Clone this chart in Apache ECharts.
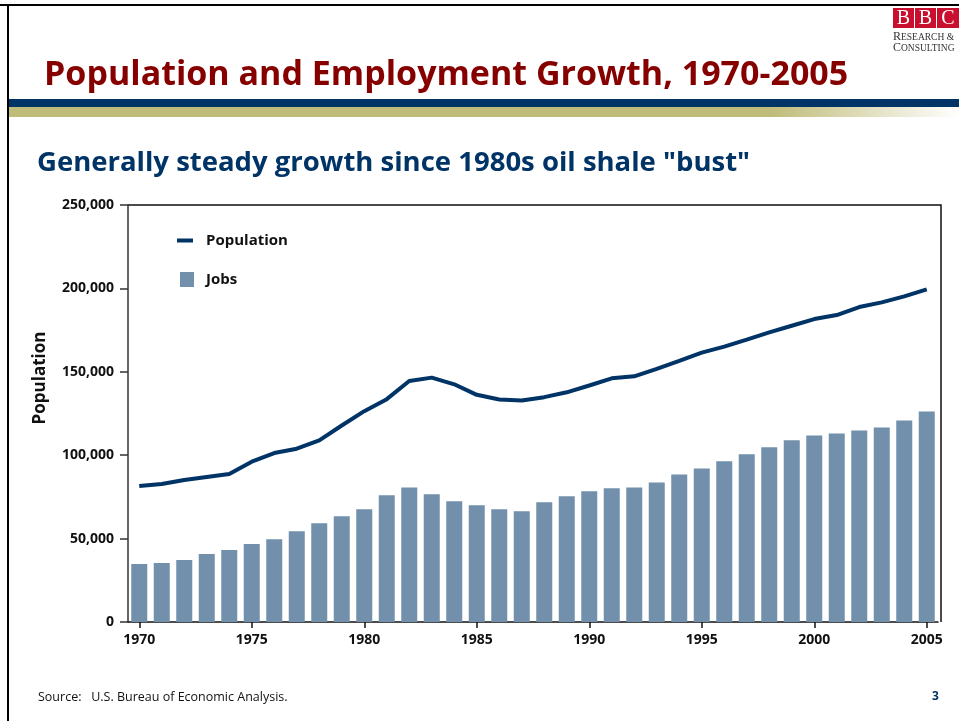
<!DOCTYPE html>
<html>
<head>
<meta charset="utf-8">
<title>Population and Employment Growth, 1970-2005</title>
<script src="https://cdn.jsdelivr.net/npm/echarts@6/dist/echarts.min.js"></script>
<style>
  html, body { margin: 0; padding: 0; background: #fff; }
  #chart { width: 959px; height: 721px; }
</style>
</head>
<body>
<div id="chart"></div>
<script>
// data
var years = [];
for (var y = 1970; y <= 2005; y++) years.push(String(y));

var population = [
  81500, 82700, 85100, 86900, 88700, 96100, 101300, 103900, 108900, 117800,
  126400, 133600, 144500, 146500, 142500, 136200, 133400, 132800, 134800, 137700,
  141800, 146100, 147300, 151700, 156500, 161500, 165100, 169300, 173600, 177600,
  181600, 184000, 188800, 191600, 195200, 199400
];

var jobs = [
  34700, 35300, 37100, 40700, 43100, 46700, 49600, 54400, 59200, 63400,
  67600, 76000, 80700, 76600, 72400, 70000, 67600, 66400, 71800, 75400,
  78400, 80200, 80700, 83700, 88500, 92100, 96300, 100500, 104700, 108900,
  111800, 113000, 114800, 116600, 120800, 126200
];

var yTicks = [0, 50000, 100000, 150000, 200000, 250000];

var navy = "#003366";
var barColor = "#7290ab";
var font = "Open Sans";

var myChart = echarts.init(document.getElementById("chart"));

// small caps line for the logo
function smallCaps(first, rest, x, y) {
  return {
    type: "text",
    x: x,
    y: y,
    style: {
      text: "{a|" + first + "}{b|" + rest + "}",
      rich: {
        a: { fontFamily: "Liberation Serif", fontSize: 12, fill: "#333" },
        b: { fontFamily: "Liberation Serif", fontSize: 9.5, fill: "#333" }
      }
    }
  };
}

myChart.setOption({
  backgroundColor: "#fff",
  animation: false,
  title: [
    {
      text: "Population and Employment Growth, 1970-2005",
      left: 39,
      top: 53,
      textStyle: { fontFamily: font, fontWeight: "bold", fontSize: 34, color: "#860000" }
    },
    {
      text: 'Generally steady growth since 1980s oil shale "bust"',
      left: 32,
      top: 144,
      textStyle: { fontFamily: font, fontWeight: "bold", fontSize: 27.5, color: navy }
    },
    {
      text: "Source:   U.S. Bureau of Economic Analysis.",
      left: 33,
      top: 686,
      textStyle: { fontFamily: font, fontWeight: "normal", fontSize: 12.5, color: "#111" }
    },
    {
      text: "3",
      left: 927,
      top: 686,
      textStyle: { fontFamily: font, fontWeight: "bold", fontSize: 12, color: navy }
    }
  ],
  legend: [
    {
      data: [{ name: "Population", icon: "rect" }],
      left: 172,
      top: 228,
      itemWidth: 16,
      itemHeight: 4,
      textStyle: { fontFamily: font, fontWeight: "bold", fontSize: 15, color: "#111", padding: [0, 0, 0, 8] }
    },
    {
      data: [{ name: "Jobs", icon: "rect" }],
      left: 175,
      top: 267,
      itemWidth: 14,
      itemHeight: 15,
      textStyle: { fontFamily: font, fontWeight: "bold", fontSize: 15, color: "#111", padding: [0, 0, 0, 7] }
    }
  ],
  grid: {
    left: 128,
    top: 205,
    width: 810,
    bottom: 99,
    containLabel: false
  },
  xAxis: {
    type: "category",
    data: years,
    boundaryGap: true,
    axisLine: { lineStyle: { color: "#111", width: 1.5 } },
    axisTick: { show: true, alignWithLabel: true, interval: 4, length: 6, lineStyle: { color: "#111", width: 1.5 } },
    axisLabel: {
      interval: 4,
      margin: 11,
      fontFamily: font,
      fontWeight: "bold",
      fontSize: 14,
      color: "#111"
    },
    splitLine: { show: false }
  },
  yAxis: {
    type: "value",
    min: yTicks[0],
    max: yTicks[yTicks.length - 1],
    interval: yTicks[1] - yTicks[0],
    axisLine: { show: true, lineStyle: { color: "#333", width: 1.5 } },
    axisTick: { show: true, length: 8, lineStyle: { color: "#333", width: 1.5 } },
    axisLabel: {
      margin: 14,
      fontFamily: font,
      fontWeight: "bold",
      fontSize: 14,
      color: "#111",
      formatter: function (v) {
        return v.toLocaleString("en-US");
      }
    },
    splitLine: { show: false }
  },
  series: [
    {
      name: "Jobs",
      type: "bar",
      data: jobs,
      barWidth: 16,
      itemStyle: { color: barColor }
    },
    {
      name: "Population",
      type: "line",
      data: population,
      showSymbol: false,
      symbol: "none",
      z: 5,
      itemStyle: { color: navy },
      lineStyle: { color: navy, width: 4 }
    }
  ],
  graphic: [
    // slide frame
    { type: "rect", shape: { x: 0, y: 4, width: 959, height: 2 }, style: { fill: "#000" } },
    { type: "rect", shape: { x: 7, y: 4, width: 2, height: 717 }, style: { fill: "#000" } },
    // header bands
    { type: "rect", shape: { x: 9, y: 99, width: 950, height: 8 }, style: { fill: navy } },
    {
      type: "rect",
      shape: { x: 9, y: 107, width: 950, height: 10 },
      style: {
        fill: new echarts.graphic.LinearGradient(0, 0, 1, 0, [
          { offset: 0, color: "#bfbb78" },
          { offset: 0.8, color: "#bfbb78" },
          { offset: 1, color: "#ffffff" }
        ])
      }
    },
    // plot box top and right edges
    {
      type: "polyline",
      shape: { points: [[128, 205], [941, 205], [941, 622]] },
      style: { stroke: "#111", lineWidth: 1.5, fill: null }
    },
    // y axis title
    {
      type: "text",
      x: 40,
      y: 378,
      rotation: Math.PI / 2,
      style: {
        text: "Population",
        fontFamily: font,
        fontWeight: "bold",
        fontSize: 17,
        fill: "#111",
        align: "center",
        verticalAlign: "middle"
      }
    },
    // BBC logo
    { type: "rect", shape: { x: 893, y: 8, width: 21, height: 20 }, style: { fill: "#c8102e" } },
    { type: "rect", shape: { x: 915, y: 8, width: 21, height: 20 }, style: { fill: "#c8102e" } },
    { type: "rect", shape: { x: 937, y: 8, width: 22, height: 20 }, style: { fill: "#c8102e" } },
    { type: "text", x: 903.5, y: 18.5, style: { text: "B", fontFamily: "Liberation Serif", fontSize: 20, fill: "#fff", align: "center", verticalAlign: "middle" } },
    { type: "text", x: 925.5, y: 18.5, style: { text: "B", fontFamily: "Liberation Serif", fontSize: 20, fill: "#fff", align: "center", verticalAlign: "middle" } },
    { type: "text", x: 948, y: 18.5, style: { text: "C", fontFamily: "Liberation Serif", fontSize: 20, fill: "#fff", align: "center", verticalAlign: "middle" } },
    smallCaps("R", "ESEARCH &", 893, 31),
    smallCaps("C", "ONSULTING", 893, 42)
  ]
});
</script>
</body>
</html>
